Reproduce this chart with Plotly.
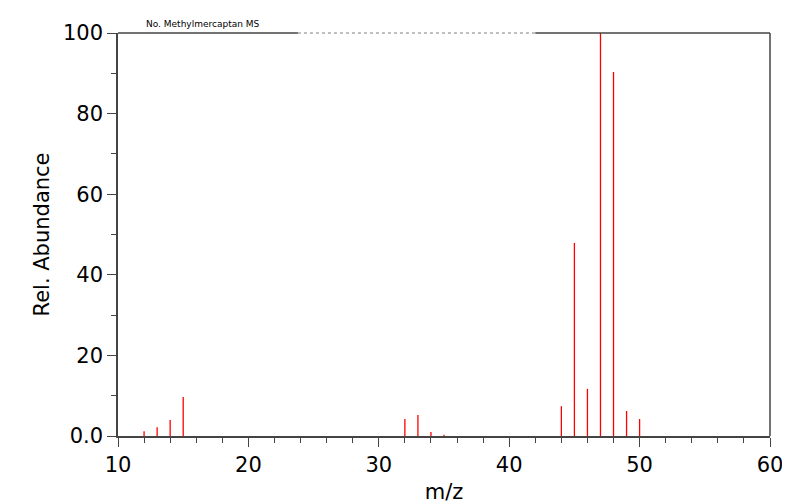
import plotly.graph_objects as go

mz = [12, 13, 14, 15, 32, 33, 34, 35, 44, 45, 46, 47, 48, 49, 50]
abundance = [1.2, 2.2, 4.0, 9.7, 4.2, 5.2, 1.0, 0.3, 7.4, 47.9, 11.7, 100, 90.3, 6.2, 4.2]

# build stick spectrum
xs, ys = [], []
for m, a in zip(mz, abundance):
    xs += [m, m, None]
    ys += [0, a, None]

fig = go.Figure(go.Scatter(x=xs, y=ys, mode="lines", line=dict(color="red", width=1.3),
                           hoverinfo="skip", showlegend=False))

axis_font = dict(family="DejaVu Sans", size=21, color="black")
fig.update_xaxes(range=[10, 60], dtick=10, ticks="outside", ticklen=9, tickcolor="#444",
                 showline=True, linecolor="#444", linewidth=1.5, showgrid=False, zeroline=False,
                 tickfont=axis_font, title=dict(text="m/z", font=axis_font, standoff=8),
                 automargin=False,
                 minor=dict(dtick=2, ticks="outside", ticklen=5, tickcolor="#444"))
fig.update_yaxes(range=[0, 100], ticks="outside", ticklen=9, tickcolor="#444",
                 showline=True, linecolor="#444", linewidth=1.5, showgrid=False,
                 zeroline=False, tickfont=axis_font, automargin=False,
                 title=dict(text="Rel. Abundance", font=axis_font, standoff=8),
                 minor=dict(dtick=10, ticks="outside", ticklen=5, tickcolor="#444"),
                 tickvals=[0, 20, 40, 60, 80, 100],
                 ticktext=["0.0", "20", "40", "60", "80", "100"])

fig.update_layout(
    width=790, height=502, plot_bgcolor="white", paper_bgcolor="white",
    margin=dict(l=110, r=28, t=25, b=74, autoexpand=False),
    shapes=[
        dict(type="line", xref="paper", yref="paper", x0=1, x1=1, y0=0, y1=1,
             line=dict(color="#444", width=1.5)),
        dict(type="line", xref="paper", yref="paper", x0=0, x1=0.276, y0=1, y1=1,
             line=dict(color="#444", width=1.5)),
        dict(type="line", xref="paper", yref="paper", x0=0.276, x1=0.64, y0=1, y1=1,
             line=dict(color="#aaa", width=1.5, dash="dot")),
        dict(type="line", xref="paper", yref="paper", x0=0.64, x1=1, y0=1, y1=1,
             line=dict(color="#444", width=1.5)),
    ],
    annotations=[dict(text="No. Methylmercaptan MS", xref="paper", yref="paper", x=0.04, y=1.005,
                      xanchor="left", yanchor="bottom", showarrow=False,
                      font=dict(family="DejaVu Sans", size=9, color="black"))],
)

fig.write_html("out.html")
